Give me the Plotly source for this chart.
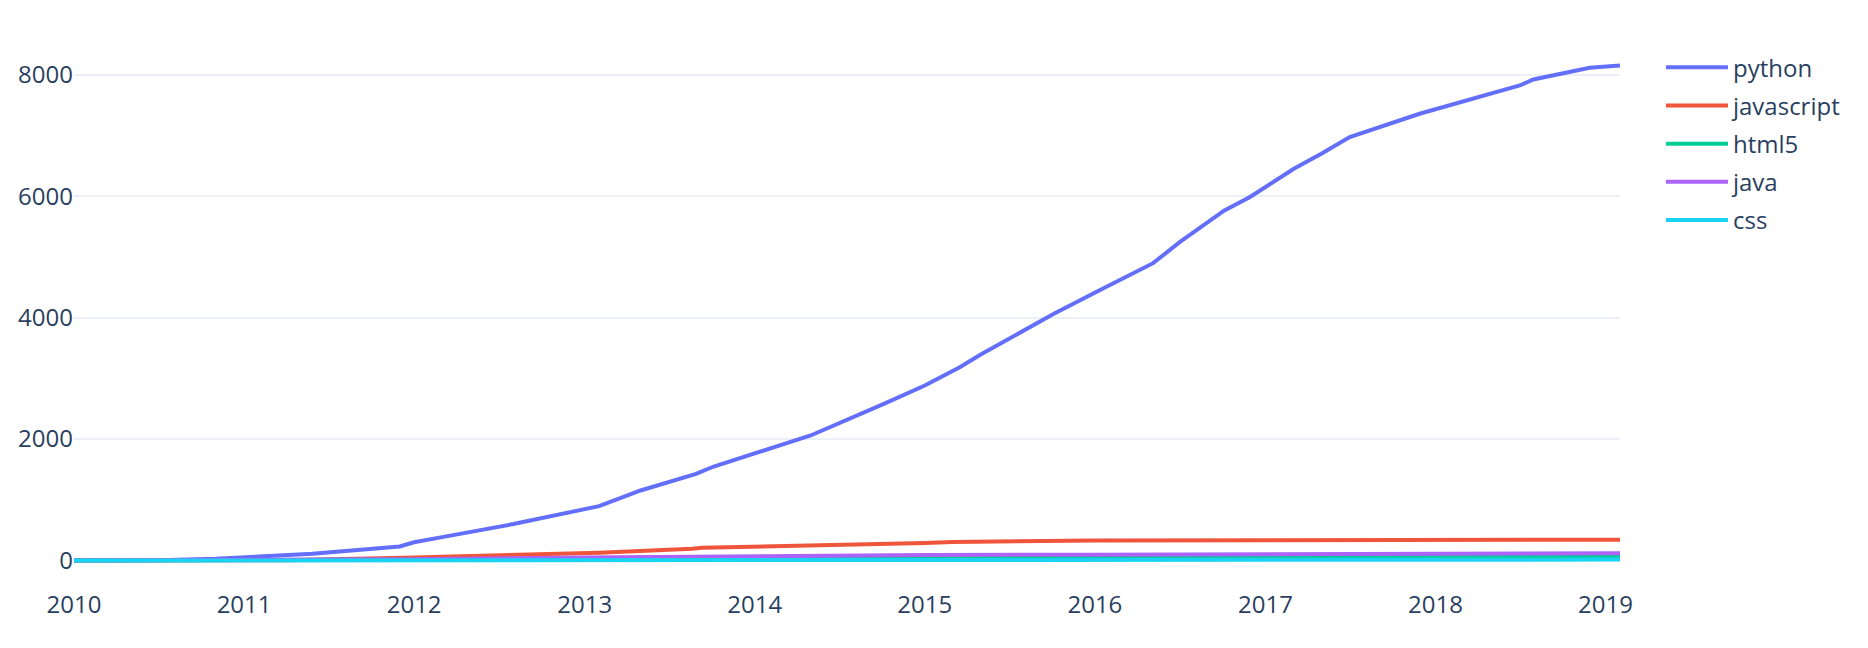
import plotly.graph_objects as go

# ---- data ----
python_dates = ["2010-01-01", "2010-07-01", "2010-11-01", "2011-05-28", "2011-12-01",
                "2012-01-01", "2012-03-01", "2012-08-01", "2013-02-01", "2013-05-01",
                "2013-08-28", "2013-10-05", "2014-05-01", "2014-08-28", "2014-10-05",
                "2015-01-01", "2015-03-17", "2015-05-01", "2015-07-01", "2015-10-05",
                "2016-01-10", "2016-03-25", "2016-05-05", "2016-07-01", "2016-10-05",
                "2016-11-28", "2017-01-25", "2017-03-03", "2017-05-01", "2017-07-01",
                "2017-11-28", "2018-01-10", "2018-07-01", "2018-07-30", "2018-11-28",
                "2019-02-01"]
python_vals = [0, 5, 30, 110, 230,
               300, 385, 600, 895, 1153,
               1428, 1548, 2059, 2443, 2581,
               2883, 3184, 3393, 3651, 4063,
               4447, 4749, 4897, 5243, 5765,
               5984, 6259, 6451, 6699, 6973,
               7358, 7451, 7824, 7923, 8116,
               8153]

javascript_dates = ["2010-01-01", "2011-04-01", "2012-01-01", "2013-02-01", "2013-08-20",
                    "2013-09-10", "2015-01-01", "2015-03-01", "2016-01-01", "2017-01-01",
                    "2018-01-01", "2019-02-01"]
javascript_vals = [0, 5, 50, 126, 195,
                   210, 290, 305, 328, 334,
                   338, 343]

html5_dates = ["2010-01-01", "2012-01-01", "2014-01-01", "2016-01-01", "2018-01-01", "2019-02-01"]
html5_vals = [0, 5, 25, 45, 60, 66]

java_dates = ["2010-01-01", "2011-01-01", "2012-01-01", "2013-01-01", "2014-01-01",
              "2015-01-01", "2016-01-01", "2017-01-01", "2018-01-01", "2019-02-01"]
java_vals = [0, 5, 20, 50, 75, 90, 96, 105, 114, 120]

css_dates = ["2010-01-01", "2012-01-01", "2014-01-01", "2016-01-01", "2018-01-01", "2019-02-01"]
css_vals = [0, 2, 5, 8, 12, 15]

series_names = ["python", "javascript", "html5", "java", "css"]
series_dates = [python_dates, javascript_dates, html5_dates, java_dates, css_dates]
series_vals = [python_vals, javascript_vals, html5_vals, java_vals, css_vals]
colors = ["#636EFA", "#EF553B", "#00CC96", "#AB63FA", "#19D3F3"]

y_ticks = [0, 2000, 4000, 6000, 8000]

fig = go.Figure()
for name, xs, ys, c in zip(series_names, series_dates, series_vals, colors):
    fig.add_trace(go.Scatter(x=xs, y=ys, mode="lines", name=name,
                             legendgroup=name,
                             line=dict(color=c, width=4)))

FONT = dict(family='"Open Sans", verdana, arial, sans-serif', size=24, color="#2a3f5f")

# page body adds an 8px offset, so the figure is 8px smaller and margins compensate
fig.update_layout(
    template="plotly_white",
    width=1860, height=640,
    margin=dict(l=66, r=248, t=30, b=60, autoexpand=False),
    font=FONT,
    legend=dict(font=FONT, tracegroupgap=4, itemwidth=62, x=1.0265, y=0.987),
    xaxis=dict(showgrid=False, dtick="M12", tickformat="%Y", zeroline=False,
               automargin=False),
    yaxis=dict(tickvals=y_ticks, gridcolor="#EBF0F8", gridwidth=2,
               zerolinecolor="white", zerolinewidth=4, automargin=False),
)

fig.write_html("out.html")
